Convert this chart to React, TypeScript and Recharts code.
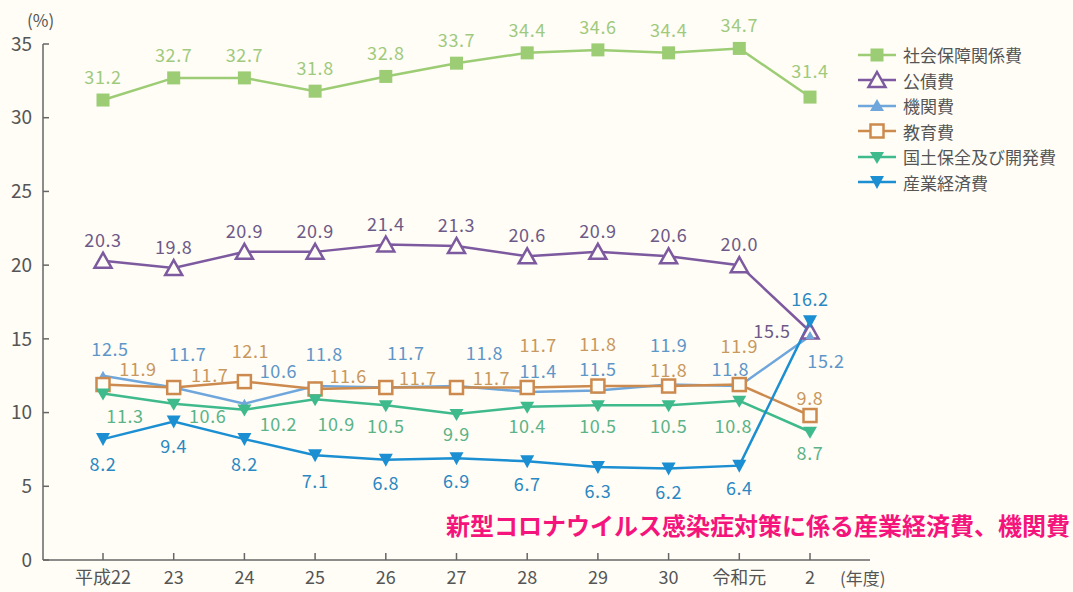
import React from 'react';
import { LineChart, Line, XAxis, YAxis, Legend, LabelList } from 'recharts';

const years = ['平成22', '23', '24', '25', '26', '27', '28', '29', '30', '令和元', '2'];
const socialSecurity = [31.2, 32.7, 32.7, 31.8, 32.8, 33.7, 34.4, 34.6, 34.4, 34.7, 31.4];
const publicDebt = [20.3, 19.8, 20.9, 20.9, 21.4, 21.3, 20.6, 20.9, 20.6, 20.0, 15.5];
const administration = [12.5, 11.7, 10.6, 11.8, 11.7, 11.8, 11.4, 11.5, 11.9, 11.8, 15.2];
const education = [11.9, 11.7, 12.1, 11.6, 11.7, 11.7, 11.7, 11.8, 11.8, 11.9, 9.8];
const landDevelopment = [11.3, 10.6, 10.2, 10.9, 10.5, 9.9, 10.4, 10.5, 10.5, 10.8, 8.7];
const industryEconomy = [8.2, 9.4, 8.2, 7.1, 6.8, 6.9, 6.7, 6.3, 6.2, 6.4, 16.2];
const yTicks = [0, 5, 10, 15, 20, 25, 30, 35];

// label placement (layout only, pixel offsets from each point)
const socialOffsets = [[0, -24], [0, -24], [0, -24], [0, -24], [0, -24], [0, -24], [0, -24], [0, -24], [0, -24], [0, -24], [0, -27]];
const debtOffsets = [[0, -22], [0, -22], [0, -22], [0, -22], [0, -22], [0, -22], [0, -22], [0, -22], [0, -22], [0, -22], [-38, -1]];
const adminOffsets = [[7, -28], [14, -35], [34, -34], [9, -33], [20, -36], [28, -34], [11, -22], [0, -22], [0, -41], [-9, -18], [16, 24]];
const educationOffsets = [[35, -17], [36, -14], [6, -32], [33, -14], [32, -11], [35, -11], [11, -44], [0, -43], [0, -17], [0, -40], [0, -19]];
const landOffsets = [[22, 22], [34, 11], [34, 13], [21, 24], [0, 20], [0, 19], [0, 18], [0, 20], [0, 20], [-6, 24], [0, 20]];
const industryOffsets = [[0, 24], [0, 24], [0, 24], [0, 25], [0, 22], [0, 22], [0, 22], [0, 23], [0, 22], [0, 21], [0, -23]];

const BG = '#fffdf6';
const FONT = '"Noto Sans CJK JP", "Noto Sans", sans-serif';

type MarkerType = 'squareFilled' | 'triOpen' | 'triSmall' | 'squareOpen' | 'triDownTeal' | 'triDown';

const series: { key: string; name: string; color: string; labelColor: string; marker: MarkerType; values: number[]; offsets: number[][] }[] = [
  { key: 'social', name: '社会保障関係費', color: '#9ccc74', labelColor: '#9fca7e', marker: 'squareFilled', values: socialSecurity, offsets: socialOffsets },
  { key: 'debt', name: '公債費', color: '#7d5a9f', labelColor: '#6d5a88', marker: 'triOpen', values: publicDebt, offsets: debtOffsets },
  { key: 'admin', name: '機関費', color: '#6fa7dc', labelColor: '#5d96c8', marker: 'triSmall', values: administration, offsets: adminOffsets },
  { key: 'edu', name: '教育費', color: '#cc8a4e', labelColor: '#c8985e', marker: 'squareOpen', values: education, offsets: educationOffsets },
  { key: 'land', name: '国土保全及び開発費', color: '#3fba8c', labelColor: '#5bb388', marker: 'triDownTeal', values: landDevelopment, offsets: landOffsets },
  { key: 'industry', name: '産業経済費', color: '#1b8fd2', labelColor: '#2a88c2', marker: 'triDown', values: industryEconomy, offsets: industryOffsets },
];

const data = years.map((year, i) => {
  const row: Record<string, string | number> = { year };
  series.forEach((s) => {
    row[s.key] = s.values[i];
  });
  return row;
});

function Marker({ type, cx, cy, color }: { type: MarkerType; cx: number; cy: number; color: string }) {
  switch (type) {
    case 'squareFilled':
      return <rect x={cx - 6.5} y={cy - 6.5} width={13} height={13} fill={color} />;
    case 'triOpen':
      return (
        <polygon
          points={`${cx},${cy - 8} ${cx + 8.5},${cy + 7} ${cx - 8.5},${cy + 7}`}
          fill={BG}
          stroke={color}
          strokeWidth={2.5}
        />
      );
    case 'triSmall':
      return <polygon points={`${cx},${cy - 5} ${cx + 4.5},${cy + 3} ${cx - 4.5},${cy + 3}`} fill={color} />;
    case 'squareOpen':
      return <rect x={cx - 6.5} y={cy - 6.5} width={13} height={13} fill={BG} stroke={color} strokeWidth={2.5} />;
    case 'triDownTeal':
      return <polygon points={`${cx - 7},${cy - 5} ${cx + 7},${cy - 5} ${cx},${cy + 7}`} fill={color} />;
    case 'triDown':
    default:
      return <polygon points={`${cx - 7},${cy - 6} ${cx + 7},${cy - 6} ${cx},${cy + 7}`} fill={color} />;
  }
}

const legendMarker: Record<MarkerType, MarkerType> = {
  squareFilled: 'squareFilled',
  triOpen: 'triOpen',
  triSmall: 'triDown',
  squareOpen: 'squareOpen',
  triDownTeal: 'triDownTeal',
  triDown: 'triDown',
};

function LegendContent() {
  return (
    <div style={{ fontFamily: FONT }}>
      {series.map((s) => (
        <div key={s.key} style={{ display: 'flex', alignItems: 'center', height: 25.5 }}>
          <svg width={40} height={22} style={{ display: 'block' }}>
            <line x1={1} y1={11} x2={39} y2={11} stroke={s.color} strokeWidth={2.5} />
            {s.marker === 'triSmall' ? (
              <polygon points={`20,4 27,16 13,16`} fill={s.color} />
            ) : (
              <Marker type={legendMarker[s.marker]} cx={20} cy={11} color={s.color} />
            )}
          </svg>
          <span style={{ marginLeft: 6, fontSize: 17, color: '#555', whiteSpace: 'nowrap' }}>{s.name}</span>
        </div>
      ))}
    </div>
  );
}

function makeLabel(color: string, offsets: number[][]) {
  return (props: any) => {
    const { index, value } = props;
    const x = props.x ?? props.viewBox?.x;
    const y = props.y ?? props.viewBox?.y;
    if (x == null || y == null) return null;
    const off = offsets[index] || [0, -20];
    return (
      <text
        x={x + off[0]}
        y={y + off[1]}
        textAnchor="middle"
        dominantBaseline="central"
        fill={color}
        fontSize={18}
        letterSpacing={0.6}
        fontFamily={FONT}
      >
        {Number(value).toFixed(1)}
      </text>
    );
  };
}

export default function App() {
  return (
    <div style={{ position: 'fixed', left: 0, top: 0, width: 1073, height: 592, background: BG, fontFamily: FONT }}>
      <LineChart
        width={1073}
        height={592}
        data={data}
        margin={{ top: 44, right: 203, bottom: 0, left: 0 }}
      >
        <XAxis
          dataKey="year"
          padding={{ left: 60, right: 60 }}
          stroke="#666"
          strokeWidth={1.5}
          tickSize={-7}
          tickMargin={18}
          tick={{ fill: '#555', fontSize: 18, fontFamily: FONT }}
          interval={0}
          height={32}
        />
        <YAxis
          type="number"
          domain={[0, 35]}
          ticks={yTicks}
          width={43}
          stroke="#666"
          strokeWidth={1.5}
          tickSize={-6}
          tickMargin={17}
          tick={{ fill: '#555', fontSize: 19, fontFamily: FONT }}
          interval={0}
        />
        <Legend
          layout="vertical"
          align="center"
          verticalAlign="middle"
          content={<LegendContent />}
          wrapperStyle={{ left: 857, top: 42, width: 214 }}
        />
        {series.map((s) => (
          <Line
            key={s.key}
            dataKey={s.key}
            name={s.name}
            stroke={s.color}
            strokeWidth={2.5}
            isAnimationActive={false}
            dot={(p: any) => <Marker key={`${s.key}-${p.index}`} type={s.marker} cx={p.cx} cy={p.cy} color={s.color} />}
            activeDot={false}
          >
            <LabelList dataKey={s.key} content={makeLabel(s.labelColor, s.offsets)} />
          </Line>
        ))}
      </LineChart>
      <div style={{ position: 'absolute', left: 27, top: 9, fontSize: 17, color: '#555', lineHeight: '22px' }}>(%)</div>
      <div style={{ position: 'absolute', left: 840, top: 567, fontSize: 17, color: '#555', lineHeight: '22px' }}>(年度)</div>
      <div
        style={{
          position: 'absolute',
          right: 3,
          top: 510,
          fontSize: 24,
          fontWeight: 700,
          color: '#f5147b',
          lineHeight: '30px',
          whiteSpace: 'nowrap',
        }}
      >
        新型コロナウイルス感染症対策に係る産業経済費、機関費
      </div>
    </div>
  );
}
